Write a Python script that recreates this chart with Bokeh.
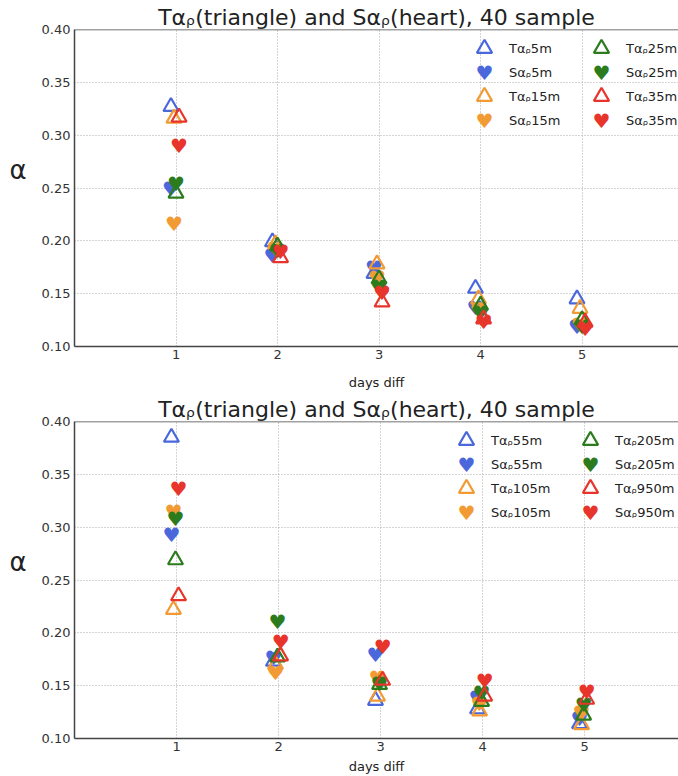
from bokeh.plotting import figure
from bokeh.models import (Legend, LegendItem, FixedTicker, PrintfTickFormatter,
                          Label, Range1d, ColumnDataSource, Span)
from bokeh.layouts import column
from bokeh.core.properties import value
from bokeh.embed import file_html
from bokeh.resources import INLINE

FONT = "DejaVu Sans"

# ---------------- data ----------------
days = [1, 2, 3, 4, 5]
yticks = [0.10, 0.15, 0.20, 0.25, 0.30, 0.35, 0.40]
colors = ["#4a68dc", "#f29a34", "#2c7c1e", "#e8352b"]

title_text = "T\u03b1\u1d68(triangle) and S\u03b1\u1d68(heart), 40 sample"
x_label = "days diff"
y_label = "\u03b1\n "

# top panel: depths 5m, 15m, 25m, 35m
depths_top = ["5m", "15m", "25m", "35m"]
offsets_top = [-0.05, -0.02, 0.0, 0.03]
T_5m = [0.327, 0.199, 0.169, 0.155, 0.145]
T_15m = [0.316, 0.197, 0.178, 0.145, 0.136]
T_25m = [0.245, 0.195, 0.164, 0.139, 0.125]
T_35m = [0.317, 0.184, 0.142, 0.126, 0.123]
S_5m = [0.249, 0.186, 0.174, 0.136, 0.118]
S_15m = [0.216, 0.192, 0.165, 0.135, 0.120]
S_25m = [0.254, 0.190, 0.156, 0.132, 0.118]
S_35m = [0.290, 0.189, 0.151, 0.123, 0.117]

# bottom panel: depths 55m, 105m, 205m, 950m
depths_bottom = ["55m", "105m", "205m", "950m"]
offsets_bottom = [-0.05, -0.03, -0.01, 0.02]
T_55m = [0.385, 0.173, 0.136, 0.128, 0.114]
T_105m = [0.222, 0.170, 0.140, 0.126, 0.113]
T_205m = [0.269, 0.177, 0.151, 0.135, 0.122]
T_950m = [0.235, 0.178, 0.155, 0.140, 0.137]
S_55m = [0.293, 0.176, 0.179, 0.138, 0.118]
S_105m = [0.314, 0.162, 0.157, 0.133, 0.124]
S_205m = [0.308, 0.210, 0.152, 0.143, 0.132]
S_950m = [0.336, 0.191, 0.187, 0.154, 0.144]

# ---------------- layout constants ----------------
FRAME_H = 317
GLYPH = 38
ROW = 24
HEART_FS = "20px"


def make_panel(depths, offsets, T_series, S_series, border_top, border_bottom,
               border_left, x_end, xlabel_standoff, leg_x):
    height = border_top + FRAME_H + border_bottom
    p = figure(width=678, height=height, output_backend="svg",
               toolbar_location=None,
               x_range=Range1d(0, x_end), y_range=Range1d(0.10, 0.40),
               min_border_top=border_top, min_border_left=border_left,
               min_border_right=0, min_border_bottom=border_bottom)
    p.title.text = title_text
    p.title.align = "center"
    p.title.offset = 4
    p.title.text_font = FONT
    p.title.text_font_size = "22px"
    p.title.text_font_style = "normal"
    p.title.text_color = "#222222"
    p.title.standoff = 0

    # frame: left and bottom axis lines plus a top border (right side is cut
    # off in the reference)
    p.outline_line_color = None
    p.add_layout(Span(location=p.y_range.end, dimension="width",
                      line_color="#444444", line_width=1.5))

    for ax in (p.xaxis[0], p.yaxis[0]):
        ax.axis_line_color = "#444444"
        ax.axis_line_width = 1.5
        ax.major_tick_out = 0
        ax.major_tick_in = 0
        ax.minor_tick_out = 0
        ax.minor_tick_in = 0
        ax.major_label_text_font = FONT
        ax.major_label_text_font_size = "13px"
        ax.major_label_text_color = "#333333"
        ax.axis_label_text_font = FONT
        ax.axis_label_text_font_style = "normal"
        ax.axis_label_text_color = "#222222"

    p.xaxis.ticker = FixedTicker(ticks=days)
    p.xaxis.axis_label = x_label
    p.xaxis.axis_label_text_font_size = "13px"
    p.xaxis.major_label_standoff = 3
    p.xaxis.axis_label_standoff = xlabel_standoff

    p.yaxis.ticker = FixedTicker(ticks=yticks)
    p.yaxis.formatter = PrintfTickFormatter(format="%.2f")
    p.yaxis.axis_label = y_label
    p.yaxis.axis_label_text_font_size = "26px"
    p.yaxis.axis_label_orientation = "horizontal"
    p.yaxis.major_label_standoff = 4
    p.yaxis.axis_label_standoff = 12

    p.xgrid.ticker = FixedTicker(ticks=days)
    p.ygrid.ticker = FixedTicker(ticks=yticks)
    for g in (p.xgrid[0], p.ygrid[0]):
        g.grid_line_color = "#a8a8a8"
        g.grid_line_dash = "1 2"
        g.grid_line_width = 1

    items = []
    for dep, off, tv, sv, col in zip(depths, offsets, T_series, S_series, colors):
        xs = [d + off for d in days]
        src_t = ColumnDataSource(dict(x=xs, y=tv))
        src_s = ColumnDataSource(dict(x=xs, y=sv, t=["\u2665"] * len(days)))
        rt = p.scatter("x", "y", source=src_t, marker="triangle", size=15,
                       fill_color=None, line_color=col, line_width=2.2)
        rs = p.text("x", "y", text="t", source=src_s, text_color=col,
                    text_font=value(FONT), text_font_size=HEART_FS,
                    text_align="center", text_baseline="middle")
        items.append((LegendItem(label="T\u03b1\u1d68" + dep, renderers=[rt]), None))
        items.append((LegendItem(label="S\u03b1\u1d68" + dep, renderers=[rs]), col))

    # two legend columns, four rows each; one small legend per row
    for k, lx in enumerate(leg_x):
        for i in range(4):
            item, heart_col = items[4 * k + i]
            center_from_top = 19 + ROW * i
            ly = FRAME_H - (center_from_top - GLYPH / 2) - GLYPH
            leg = Legend(items=[item], location=(lx, ly),
                         orientation="vertical", glyph_width=GLYPH,
                         glyph_height=GLYPH, spacing=0, padding=0, margin=0,
                         label_standoff=6, label_text_font=FONT,
                         label_text_font_size="13px",
                         label_text_color="#222222",
                         border_line_alpha=0, background_fill_alpha=0)
            p.add_layout(leg)
            if heart_col is not None:
                p.add_layout(Label(x=lx + GLYPH / 2, y=FRAME_H - center_from_top,
                                   x_units="screen", y_units="screen",
                                   text="\u2665", text_color=heart_col,
                                   text_font=FONT, text_font_size=HEART_FS,
                                   text_align="center", text_baseline="middle"))
    return p


p1 = make_panel(depths_top, offsets_top,
                [T_5m, T_15m, T_25m, T_35m], [S_5m, S_15m, S_25m, S_35m],
                border_top=29, border_bottom=48, border_left=70, x_end=5.95,
                xlabel_standoff=13, leg_x=[391, 508])
p2 = make_panel(depths_bottom, offsets_bottom,
                [T_55m, T_105m, T_205m, T_950m],
                [S_55m, S_105m, S_205m, S_950m],
                border_top=27, border_bottom=38, border_left=74, x_end=5.92,
                xlabel_standoff=5, leg_x=[373, 497])

layout = column(p1, p2, spacing=0)
open("out.html", "w").write(file_html(layout, INLINE))
